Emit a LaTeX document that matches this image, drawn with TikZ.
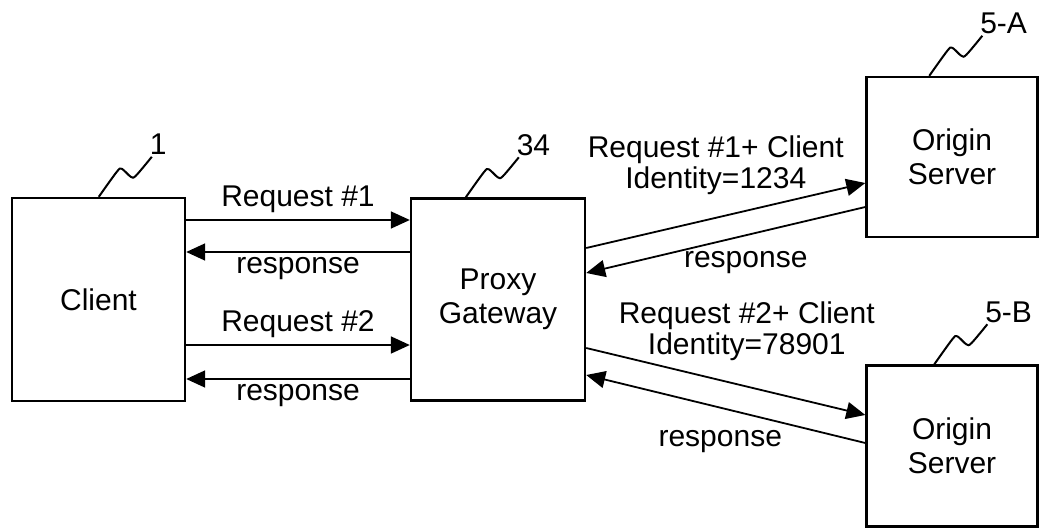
\documentclass[tikz,border=0pt]{standalone}
\usepackage{fontspec}
\setmainfont{Liberation Sans}
\usetikzlibrary{arrows.meta}

\begin{document}
\begin{tikzpicture}[x=1pt, y=-1pt]

        % Define styles
        \tikzstyle{box} = [draw, line width=2.4pt, inner sep=0pt, align=center, font=\fontsize{30}{34}\selectfont]
        \tikzstyle{msg} = [line width=1.8pt, -{Triangle[length=19pt, width=17pt]}]
        \tikzstyle{lbl} = [inner sep=0pt, align=center, font=\fontsize{30}{31}\selectfont]
        \tikzstyle{leader} = [line width=2pt]
        \tikzstyle{refnum} = [inner sep=0pt, anchor=base west, xshift=-3pt, yshift=2pt, font=\fontsize{30}{34}\selectfont]

        \useasboundingbox (0,0) rectangle (1040,529);

        % Client and Proxy Gateway
        \node[box, minimum width=173pt, minimum height=203pt] (client) at (98.5,299.5) {Client};
        \node[box, minimum width=174pt, minimum height=202pt] (proxy) at (498,299.5) {Proxy\\Gateway};

        % Origin Servers
        \node[box, minimum width=171pt, minimum height=160pt] (serverA) at (952,157) {Origin\\Server};
        \node[box, minimum width=171pt, minimum height=161pt] (serverB) at (952,446) {Origin\\Server};

        % Client <-> Proxy
        \draw[msg] ([yshift=79.5pt]client.east) -- node[lbl, anchor=base, yshift=13pt] {Request \#1} ([yshift=79.5pt]proxy.west);
        \draw[msg] ([yshift=47.5pt]proxy.west) -- node[lbl, anchor=base, yshift=-21pt] {response} ([yshift=47.5pt]client.east);
        \draw[msg] ([yshift=-45.5pt]client.east) -- node[lbl, anchor=base, yshift=14pt] {Request \#2} ([yshift=-45.5pt]proxy.west);
        \draw[msg] ([yshift=-79.5pt]proxy.west) -- node[lbl, anchor=base, yshift=-21pt] {response} ([yshift=-79.5pt]client.east);

        % Proxy <-> Origin Server 5-A
        \draw[msg] ([yshift=51.5pt]proxy.east) -- node[lbl, xshift=-10pt, yshift=50pt] {Request \#1+ Client\\Identity=1234} ([yshift=-26pt]serverA.west);
        \draw[msg] ([yshift=-50pt]serverA.west) -- node[lbl, xshift=20pt, yshift=-23pt] {response} ([yshift=26.5pt]proxy.east);

        % Proxy <-> Origin Server 5-B
        \draw[msg] ([yshift=-48.5pt]proxy.east) -- node[lbl, xshift=21pt, yshift=50pt] {Request \#2+ Client\\Identity=78901} ([yshift=31pt]serverB.west);
        \draw[msg] ([yshift=3pt]serverB.west) -- node[lbl, xshift=-5.5pt, yshift=-33pt] {response} ([yshift=-75.5pt]proxy.east);

        % Reference numerals
        \draw[leader, shift={(client.north west)}, xshift=88pt] plot[smooth] coordinates {(0,0) (18,-25) (23,-28) (32,-20) (37,-21) (53,-40)} node[refnum] {1};
        \draw[leader, shift={(proxy.north west)}, xshift=56pt] plot[smooth] coordinates {(0,0) (18,-25) (23,-28) (32,-20) (37,-21) (53,-40)} node[refnum] {34};
        \draw[leader, shift={(serverA.north west)}, xshift=64pt] plot[smooth] coordinates {(0,0) (18,-25) (23,-28) (32,-20) (37,-21) (53,-40)} node[refnum] {5-A};
        \draw[leader, shift={(serverB.north west)}, xshift=69pt] plot[smooth] coordinates {(0,0) (18,-25) (23,-28) (32,-20) (37,-21) (53,-40)} node[refnum] {5-B};

\end{tikzpicture}
\end{document}
